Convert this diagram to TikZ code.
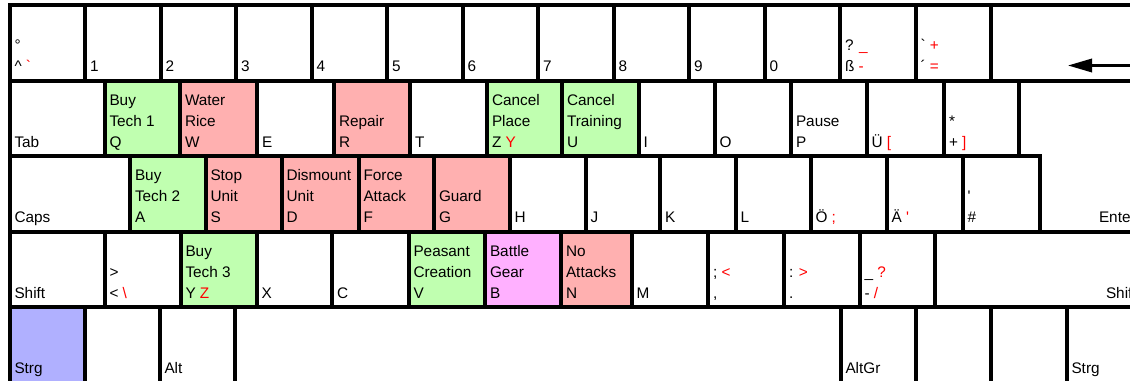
\documentclass[tikz,border=0pt]{standalone}
\usepackage{fontspec}
\setmainfont{Liberation Sans}
\usetikzlibrary{arrows.meta}
\definecolor{kgreen}{RGB}{192,255,176}
\definecolor{kred}{RGB}{255,176,176}
\definecolor{kmag}{RGB}{255,176,255}
\definecolor{kblue}{RGB}{176,176,255}
\tikzset{
  keybox/.style={draw=black, line width=3pt, rectangle, inner sep=0pt, outer sep=0pt},
  lbl/.style={anchor=base west, inner sep=0pt, outer sep=0pt, font=\fontsize{11.5}{14}\selectfont},
  bsarrow/.style={line width=1.8pt, -{Triangle[length=18pt,width=10pt]}}
}
\newcommand\rd[1]{\textcolor{red}{#1}}
% #1 name, #2 left, #3 right, #4 top, #5 fill, #6 line1, #7 line2, #8 line3
\newcommand\kb[8]{%
  \node[keybox, fill=#5, minimum width={(#3-#2)*0.75pt}, minimum height={75.5*0.75pt}] (#1) at ({(#2+#3)/2},{#4+37.75}) {};
  \if\relax\detokenize{#6}\relax\else\node[lbl] (#1-a) at ({#2+5},{#4+24.5}) {#6};\fi
  \if\relax\detokenize{#7}\relax\else\node[lbl] (#1-b) at ({#2+5},{#4+45.5}) {#7};\fi
  \if\relax\detokenize{#8}\relax\else\node[lbl] (#1-c) at ({#2+5},{#4+66.5}) {#8};\fi
}
\begin{document}
\begin{tikzpicture}[x=0.75pt,y=-0.75pt]
\useasboundingbox (0,0) rectangle (1130,381);
\clip (0,0) rectangle (1130,381);
\fill[white] (0,0) rectangle (1130,381);
% Row 1
\kb{kCirc}{9.5}{85}{5.25}{white}{}{°}{\textasciicircum\ \rd{\textasciigrave}}
\kb{k1}{85}{160.5}{5.25}{white}{}{}{1}
\kb{k2}{160.5}{236}{5.25}{white}{}{}{2}
\kb{k3}{236}{311.5}{5.25}{white}{}{}{3}
\kb{k4}{311.5}{387}{5.25}{white}{}{}{4}
\kb{k5}{387}{462.5}{5.25}{white}{}{}{5}
\kb{k6}{462.5}{538}{5.25}{white}{}{}{6}
\kb{k7}{538}{613.5}{5.25}{white}{}{}{7}
\kb{k8}{613.5}{689}{5.25}{white}{}{}{8}
\kb{k9}{689}{764.5}{5.25}{white}{}{}{9}
\kb{k0}{764.5}{840}{5.25}{white}{}{}{0}
\kb{kSz}{840}{915.5}{5.25}{white}{}{? \rd{\_}}{ß \rd{-}}
\kb{kAcute}{915.5}{991}{5.25}{white}{}{\textasciigrave\ \rd{+}}{´ \rd{=}}
\kb{kBack}{991}{1160}{5.25}{white}{}{}{}
\coordinate (bsR) at (1140,65.5);
\coordinate (bsL) at (1068,65.5);
\draw[bsarrow] (bsR) -- (bsL);
% Row 2
\kb{kTab}{9.5}{104.5}{80.75}{white}{}{}{Tab}
\kb{kQ}{104.5}{180}{80.75}{kgreen}{Buy}{Tech 1}{Q}
\kb{kW}{180}{257}{80.75}{kred}{Water}{Rice}{W}
\kb{kE}{257}{334}{80.75}{white}{}{}{E}
\kb{kR}{334}{410}{80.75}{kred}{}{Repair}{R}
\kb{kT}{410}{487}{80.75}{white}{}{}{T}
\kb{kZ}{487}{562}{80.75}{kgreen}{Cancel}{Place}{Z \rd{Y}}
\kb{kU}{562}{638.5}{80.75}{kgreen}{Cancel}{Training}{U}
\kb{kI}{638.5}{714.5}{80.75}{white}{}{}{I}
\kb{kO}{714.5}{791}{80.75}{white}{}{}{O}
\kb{kP}{791}{866.5}{80.75}{white}{}{Pause}{P}
\kb{kUe}{866.5}{944}{80.75}{white}{}{}{Ü \rd{[}}
\kb{kPlus}{944}{1019}{80.75}{white}{}{*}{+ \rd{]}}
% Row 3
\kb{kCaps}{9.5}{130}{156.25}{white}{}{}{Caps}
\kb{kA}{130}{205.5}{156.25}{kgreen}{Buy}{Tech 2}{A}
\kb{kS}{205.5}{281.5}{156.25}{kred}{Stop}{Unit}{S}
\kb{kD}{281.5}{358.5}{156.25}{kred}{Dismount}{Unit}{D}
\kb{kF}{358.5}{434}{156.25}{kred}{Force}{Attack}{F}
\kb{kG}{434}{509.5}{156.25}{kred}{}{Guard}{G}
\kb{kH}{509.5}{585.5}{156.25}{white}{}{}{H}
\kb{kJ}{585.5}{660}{156.25}{white}{}{}{J}
\kb{kK}{660}{735.5}{156.25}{white}{}{}{K}
\kb{kL}{735.5}{810.5}{156.25}{white}{}{}{L}
\kb{kOe}{810.5}{886.5}{156.25}{white}{}{}{Ö \rd{;}}
\kb{kAe}{886.5}{962.5}{156.25}{white}{}{}{Ä \rd{\textquotesingle}}
\kb{kHash}{962.5}{1039.5}{156.25}{white}{}{\textquotesingle}{\#}
% Enter (L-shaped)
\draw[keybox, fill=white] (1019,80.75) -- (1160,80.75) -- (1160,231.75) -- (1039.5,231.75) -- (1039.5,156.25) -- (1019,156.25) -- cycle;
\node[lbl] (kEnter-t) at (1099,222.75) {Enter};
% Row 4
\kb{kLShift}{9.5}{104.5}{231.75}{white}{}{}{Shift}
\kb{kLess}{104.5}{180.5}{231.75}{white}{}{>}{< \rd{\textbackslash}}
\kb{kY}{180.5}{256.5}{231.75}{kgreen}{Buy}{Tech 3}{Y \rd{Z}}
\kb{kX}{256.5}{332}{231.75}{white}{}{}{X}
\kb{kC}{332}{408.5}{231.75}{white}{}{}{C}
\kb{kV}{408.5}{485}{231.75}{kgreen}{Peasant}{Creation}{V}
\kb{kB}{485}{561}{231.75}{kmag}{Battle}{Gear}{B}
\kb{kN}{561}{631.5}{231.75}{kred}{No}{Attacks}{N}
\kb{kM}{631.5}{708}{231.75}{white}{}{}{M}
\kb{kComma}{708}{784}{231.75}{white}{}{; \rd{<}}{,}
\kb{kDot}{784}{859.5}{231.75}{white}{}{: \rd{>}}{.}
\kb{kMinus}{859.5}{935}{231.75}{white}{}{\_ \rd{?}}{- \rd{/}}
\kb{kRShift}{935}{1160}{231.75}{white}{}{}{}
\node[lbl] (kRShift-t) at (1106,298.25) {Shift};
% Row 5
\kb{kLCtrl}{9.5}{84.5}{307.25}{kblue}{}{}{Strg}
\kb{kWin}{84.5}{159.5}{307.25}{white}{}{}{}
\kb{kAlt}{159.5}{235}{307.25}{white}{}{}{Alt}
\kb{kSpace}{235}{840.5}{307.25}{white}{}{}{}
\kb{kAltGr}{840.5}{915.5}{307.25}{white}{}{}{AltGr}
\kb{kWinR}{915.5}{991}{307.25}{white}{}{}{}
\kb{kMenu}{991}{1066.5}{307.25}{white}{}{}{}
\kb{kRCtrl}{1066.5}{1160}{307.25}{white}{}{}{Strg}
\end{tikzpicture}
\end{document}
